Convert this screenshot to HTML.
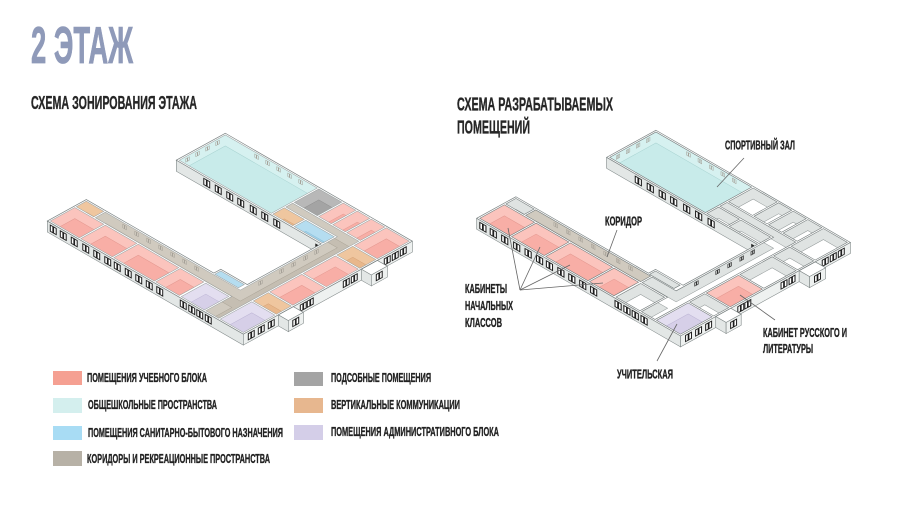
<!DOCTYPE html>
<html><head><meta charset="utf-8">
<style>
html,body{margin:0;padding:0;background:#fff}
svg{display:block}
.t{font-family:"Liberation Sans Narrow","Liberation Sans",sans-serif;font-weight:700}
.fl{stroke-width:.5}
.pw{fill:#fbc4bd}.pf{fill:#f8aea6;stroke:#e3978f}
.ow{fill:#efc69f}.of{fill:#e8b78b;stroke:#d4a074}
.bw{fill:#d0cabf}.bf{fill:#c5beb2;stroke:#aaa396}
.lw{fill:#e3def0}.lf{fill:#d6cfe8;stroke:#bcb4d4}
.uw{fill:#b5ddf0}.uf{fill:#a3d2ea;stroke:#86bcd6}
.gw{fill:#b8b8b8}.gf{fill:#a4a4a4;stroke:#8d8d8d}
.cw{fill:#d6f1f0}.cf{fill:#c8ebea;stroke:#a7d2d0}
.ww{fill:#dfe3e2}.wf{fill:#fff;stroke:#8f9696}
.ol{fill:none;stroke:#9aa1a1;stroke-width:.55}
.olr{fill:none;stroke:#737b7b;stroke-width:.6}
.fp{fill:none;stroke:#7b8383;stroke-width:.7}
.fc{fill:#e3e7e6;stroke:#7f8787;stroke-width:.6}
.fc2{fill:#eef1f0;stroke:#7f8787;stroke-width:.6}
.win{fill:#fff;stroke:#1d1d1d;stroke-width:1}
.mkl{fill:none;stroke:#a29d94;stroke-width:.5}
.mkr{fill:none;stroke:#333;stroke-width:.7}
.ld{stroke:#666;stroke-width:.8;fill:none}
.lab{stroke:#222;stroke-width:.35}
</style></head>
<body>
<svg width="900" height="506" viewBox="0 0 900 506" xmlns="http://www.w3.org/2000/svg">
<defs>
<rect id="sR1" x="1.5" y="1.5" width="29" height="24.5"/>
<rect id="sR2" x="32" y="1.5" width="31.5" height="24.5"/>
<rect id="sR3" x="65" y="1.5" width="40.5" height="24.5"/>
<rect id="sR4" x="107" y="1.5" width="23.5" height="24.5"/>
<rect id="sLS" x="132.5" y="1.5" width="23" height="24.5"/>
<rect id="sST1" x="1.5" y="27.5" width="17.5" height="10"/>
<rect id="sB1" x="129" y="38.5" width="23.5" height="6"/>
<polygon id="sCOR" points="20.5,27.5 157,27.5 157,1.5 170,1.5 170,141.5 104,141.5 104,134.5 155.5,134.5 155.5,37.5 20.5,37.5"/>
<rect id="sCA" x="20.5" y="27.5" width="110.5" height="10"/>
<polygon id="sCB" points="132.5,27.5 157,27.5 157,1.5 170,1.5 170,141.5 104,141.5 104,134.5 155.5,134.5 155.5,37.5 132.5,37.5"/>
<rect id="sLB" x="171.5" y="1.5" width="23" height="31.5"/>
<rect id="sST2" x="171.5" y="34.5" width="23" height="15"/>
<rect id="sPA" x="171.5" y="51" width="23" height="32"/>
<rect id="sPB" x="171.5" y="84.5" width="23" height="32"/>
<rect id="sST3" x="171.5" y="118" width="23" height="16"/>
<rect id="sPC" x="171.5" y="135.5" width="23" height="32"/>
<rect id="sGYM" x="10.5" y="121.5" width="92" height="46"/>
<rect id="sST4" x="104" y="121.5" width="20" height="11.5"/>
<rect id="sB2" x="125.5" y="121.5" width="28.5" height="11.5"/>
<rect id="sGR" x="104" y="143" width="23" height="24.5"/>
<rect id="sPS1" x="128.5" y="143" width="12.5" height="24.5"/>
<rect id="sPS2" x="142.5" y="143" width="12.5" height="24.5"/>
<rect id="sPS3" x="156.5" y="143" width="13.5" height="24.5"/>
<clipPath id="cR1"><use href="#sR1"/></clipPath>
<clipPath id="cR2"><use href="#sR2"/></clipPath>
<clipPath id="cR3"><use href="#sR3"/></clipPath>
<clipPath id="cR4"><use href="#sR4"/></clipPath>
<clipPath id="cLS"><use href="#sLS"/></clipPath>
<clipPath id="cST1"><use href="#sST1"/></clipPath>
<clipPath id="cB1"><use href="#sB1"/></clipPath>
<clipPath id="cCOR"><use href="#sCOR"/></clipPath>
<clipPath id="cCA"><use href="#sCA"/></clipPath>
<clipPath id="cCB"><use href="#sCB"/></clipPath>
<clipPath id="cLB"><use href="#sLB"/></clipPath>
<clipPath id="cST2"><use href="#sST2"/></clipPath>
<clipPath id="cPA"><use href="#sPA"/></clipPath>
<clipPath id="cPB"><use href="#sPB"/></clipPath>
<clipPath id="cST3"><use href="#sST3"/></clipPath>
<clipPath id="cPC"><use href="#sPC"/></clipPath>
<clipPath id="cGYM"><use href="#sGYM"/></clipPath>
<clipPath id="cST4"><use href="#sST4"/></clipPath>
<clipPath id="cB2"><use href="#sB2"/></clipPath>
<clipPath id="cGR"><use href="#sGR"/></clipPath>
<clipPath id="cPS1"><use href="#sPS1"/></clipPath>
<clipPath id="cPS2"><use href="#sPS2"/></clipPath>
<clipPath id="cPS3"><use href="#sPS3"/></clipPath>
<g id="win"><rect x="0" y="2.3" width="2.6" height="6.2"/><rect x="3.3" y="2.3" width="2.6" height="6.2"/></g>
<g id="mk"><rect x="0" y="2" width="1.5" height="3.5"/><rect x="2" y="2" width="1.5" height="3.5"/></g>
</defs>

<!-- TITLES -->
<text class="t" x="31" y="63" font-size="52" fill="#8f9ab9" stroke="#8f9ab9" stroke-width="0.8" textLength="102" lengthAdjust="spacingAndGlyphs">2 ЭТАЖ</text>
<text class="t lab" x="31" y="109" font-size="18.5" fill="#262626" textLength="166" lengthAdjust="spacingAndGlyphs">СХЕМА ЗОНИРОВАНИЯ ЭТАЖА</text>
<text class="t lab" x="457" y="110.5" font-size="18.5" fill="#262626" textLength="156" lengthAdjust="spacingAndGlyphs">СХЕМА РАЗРАБАТЫВАЕМЫХ</text>
<text class="t lab" x="457" y="133.5" font-size="18.5" fill="#262626" textLength="73" lengthAdjust="spacingAndGlyphs">ПОМЕЩЕНИЙ</text>

<!-- ================= LEFT DIAGRAM ================= -->
<g transform="matrix(1 0.577 0 1 167.3 155)">
 <rect x="9" y="0" width="145" height="11" class="fc"/>
 <g class="win"><use href="#win" x="36.5"/><use href="#win" x="48"/><use href="#win" x="59.5"/><use href="#win" x="70.5"/><use href="#win" x="83"/><use href="#win" x="94.5"/><use href="#win" x="106.5"/></g>
 <rect x="148" y="3" width="3" height="8" fill="#222"/>
</g>
<g transform="matrix(1 0.577 0 1 47.3 221)">
 <rect x="0" y="0" width="196" height="11" class="fc"/>
 <g class="win"><use href="#win" x="3"/><use href="#win" x="13"/><use href="#win" x="24"/><use href="#win" x="35.5"/><use href="#win" x="46.5"/><use href="#win" x="57.5"/><use href="#win" x="67"/><use href="#win" x="78"/><use href="#win" x="88.5"/><use href="#win" x="99"/><use href="#win" x="109.5"/><use href="#win" x="133"/><use href="#win" x="141.5"/><use href="#win" x="149.5"/><use href="#win" x="158"/></g>
</g>
<g transform="matrix(1 -0.55 0 1 243.3 334.09)">
 <rect x="0" y="0" width="169" height="11" class="fc2"/>
 <g class="win"><use href="#win" x="5"/><use href="#win" x="15"/><use href="#win" x="25"/><use href="#win" x="57"/><use href="#win" x="64"/><use href="#win" x="100"/><use href="#win" x="108"/><use href="#win" x="141"/><use href="#win" x="149"/><use href="#win" x="157"/></g>
</g>

<g transform="matrix(1 0.577 1 -0.55 47.3 221)">
 <polygon points="0,0 196,0 196,169 9,169 9,120 154,120 154,46 127.5,46 127.5,39 0,39" fill="#fff"/>
 <rect x="196" y="35" width="10" height="15" fill="#fff"/>
 <rect x="196" y="118" width="10" height="16" fill="#fff"/>
 <g clip-path="url(#cR1)"><use href="#sR1" class="pw"/><use href="#sR1" class="pf fl" transform="translate(9.76 -9.76)"/></g>
 <g clip-path="url(#cR2)"><use href="#sR2" class="pw"/><use href="#sR2" class="pf fl" transform="translate(9.76 -9.76)"/></g>
 <g clip-path="url(#cR3)"><use href="#sR3" class="pw"/><use href="#sR3" class="pf fl" transform="translate(9.76 -9.76)"/></g>
 <g clip-path="url(#cR4)"><use href="#sR4" class="pw"/><use href="#sR4" class="pf fl" transform="translate(9.76 -9.76)"/></g>
 <g clip-path="url(#cLS)"><use href="#sLS" class="lw"/><use href="#sLS" class="lf fl" transform="translate(9.76 -9.76)"/></g>
 <g clip-path="url(#cST1)"><use href="#sST1" class="ow"/><use href="#sST1" class="of fl" transform="translate(9.76 -9.76)"/></g>
 <g clip-path="url(#cB1)"><use href="#sB1" class="uw"/><use href="#sB1" class="uf fl" transform="translate(9.76 -9.76)"/></g>
 <g clip-path="url(#cCOR)"><use href="#sCOR" class="bw"/><use href="#sCOR" class="bf fl" transform="translate(9.76 -9.76)"/></g>
 <g clip-path="url(#cLB)"><use href="#sLB" class="lw"/><use href="#sLB" class="lf fl" transform="translate(9.76 -9.76)"/></g>
 <g clip-path="url(#cST2)"><use href="#sST2" class="ow"/><use href="#sST2" class="of fl" transform="translate(9.76 -9.76)"/></g>
 <g clip-path="url(#cPA)"><use href="#sPA" class="pw"/><use href="#sPA" class="pf fl" transform="translate(9.76 -9.76)"/></g>
 <g clip-path="url(#cPB)"><use href="#sPB" class="pw"/><use href="#sPB" class="pf fl" transform="translate(9.76 -9.76)"/></g>
 <g clip-path="url(#cST3)"><use href="#sST3" class="ow"/><use href="#sST3" class="of fl" transform="translate(9.76 -9.76)"/></g>
 <g clip-path="url(#cPC)"><use href="#sPC" class="pw"/><use href="#sPC" class="pf fl" transform="translate(9.76 -9.76)"/></g>
 <g clip-path="url(#cGYM)"><use href="#sGYM" class="cw"/><use href="#sGYM" class="cf fl" transform="translate(9.76 -9.76)"/></g>
 <g clip-path="url(#cST4)"><use href="#sST4" class="ow"/><use href="#sST4" class="of fl" transform="translate(9.76 -9.76)"/></g>
 <g clip-path="url(#cB2)"><use href="#sB2" class="uw"/><use href="#sB2" class="uf fl" transform="translate(9.76 -9.76)"/></g>
 <g clip-path="url(#cGR)"><use href="#sGR" class="gw"/><use href="#sGR" class="gf fl" transform="translate(9.76 -9.76)"/></g>
 <g clip-path="url(#cPS1)"><use href="#sPS1" class="pw"/><use href="#sPS1" class="pf fl" transform="translate(9.76 -9.76)"/></g>
 <g clip-path="url(#cPS2)"><use href="#sPS2" class="pw"/><use href="#sPS2" class="pf fl" transform="translate(9.76 -9.76)"/></g>
 <g clip-path="url(#cPS3)"><use href="#sPS3" class="pw"/><use href="#sPS3" class="pf fl" transform="translate(9.76 -9.76)"/></g>
 <g class="ol">
  <use href="#sR1"/><use href="#sR2"/><use href="#sR3"/><use href="#sR4"/><use href="#sLS"/><use href="#sST1"/><use href="#sB1"/><use href="#sCOR"/>
  <use href="#sLB"/><use href="#sST2"/><use href="#sPA"/><use href="#sPB"/><use href="#sST3"/><use href="#sPC"/>
  <use href="#sGYM"/><use href="#sST4"/><use href="#sB2"/><use href="#sGR"/><use href="#sPS1"/><use href="#sPS2"/><use href="#sPS3"/>
 </g>
 <polygon class="fp" points="0,0 196,0 196,169 9,169 9,120 154,120 154,46 127.5,46 127.5,39 0,39"/>
 <rect class="fp" x="196" y="35" width="10" height="15"/>
 <rect class="fp" x="196" y="118" width="10" height="16"/>
</g>
<g transform="matrix(1 0.577 0 1 82.3 201.75)"><rect x="196" y="0" width="10" height="11" class="fc"/></g>
<g transform="matrix(1 0.577 0 1 165.3 156.1)"><rect x="196" y="0" width="10" height="11" class="fc"/></g>
<g transform="matrix(1 -0.55 0 1 253.3 339.86)">
 <rect x="35" y="0" width="15" height="11" class="fc2"/><rect x="118" y="0" width="16" height="11" class="fc2"/>
 <g class="win"><use href="#win" x="39.5"/><use href="#win" x="123"/></g>
</g>
<g class="mkl" transform="matrix(1 0.577 0 1 84.8 200.375)"><use href="#mk" x="38"/><use href="#mk" x="50"/><use href="#mk" x="62"/><use href="#mk" x="74"/><use href="#mk" x="86"/><use href="#mk" x="98"/><use href="#mk" x="110"/></g>
<g class="mkl" transform="matrix(1 0.577 0 1 214.8 128.875)"><use href="#mk" x="40"/><use href="#mk" x="51"/><use href="#mk" x="62"/><use href="#mk" x="73"/><use href="#mk" x="84"/></g>
<g class="mkl" transform="matrix(1 -0.55 0 1 57.8 227.06)"><use href="#mk" x="128"/><use href="#mk" x="138"/><use href="#mk" x="148"/><use href="#mk" x="158"/></g>
<g class="mkl" transform="matrix(1 -0.55 0 1 202.8 310.72)"><use href="#mk" x="56"/><use href="#mk" x="77"/><use href="#mk" x="89"/><use href="#mk" x="101"/><use href="#mk" x="112"/></g>

<!-- ================= RIGHT DIAGRAM ================= -->
<g transform="matrix(1.04 0.6 0 1 597.3 151.94)">
 <rect x="9" y="0" width="145" height="11" class="fc"/>
 <g class="win"><use href="#win" x="36.5"/><use href="#win" x="48"/><use href="#win" x="59.5"/><use href="#win" x="70.5"/><use href="#win" x="83"/><use href="#win" x="94.5"/><use href="#win" x="106.5"/></g>
 <rect x="148" y="3" width="3" height="8" fill="#222"/>
</g>
<g transform="matrix(1.04 0.6 0 1 476.7 218.3)">
 <rect x="0" y="0" width="196" height="11" class="fc"/>
 <g class="win"><use href="#win" x="3"/><use href="#win" x="13"/><use href="#win" x="24"/><use href="#win" x="35.5"/><use href="#win" x="46.5"/><use href="#win" x="57.5"/><use href="#win" x="67"/><use href="#win" x="78"/><use href="#win" x="88.5"/><use href="#win" x="99"/><use href="#win" x="109.5"/><use href="#win" x="133"/><use href="#win" x="141.5"/><use href="#win" x="149.5"/><use href="#win" x="158"/></g>
</g>
<g transform="matrix(1.005 -0.553 0 1 680.54 335.9)">
 <rect x="0" y="0" width="169" height="11" class="fc2"/>
 <g class="win"><use href="#win" x="5"/><use href="#win" x="15"/><use href="#win" x="25"/><use href="#win" x="57"/><use href="#win" x="64"/><use href="#win" x="100"/><use href="#win" x="108"/><use href="#win" x="141"/><use href="#win" x="149"/><use href="#win" x="157"/></g>
</g>

<g transform="matrix(1.04 0.6 1.005 -0.553 476.7 218.3)">
 <polygon points="0,0 196,0 196,169 9,169 9,120 154,120 154,46 127.5,46 127.5,39 0,39" fill="#fff"/>
 <rect x="196" y="35" width="10" height="15" fill="#fff"/>
 <rect x="196" y="118" width="10" height="16" fill="#fff"/>
 <g clip-path="url(#cR1)"><use href="#sR1" class="pw"/><use href="#sR1" class="pf fl" transform="translate(9.385 -9.712)"/></g>
 <g clip-path="url(#cR2)"><use href="#sR2" class="pw"/><use href="#sR2" class="pf fl" transform="translate(9.385 -9.712)"/></g>
 <g clip-path="url(#cR3)"><use href="#sR3" class="pw"/><use href="#sR3" class="pf fl" transform="translate(9.385 -9.712)"/></g>
 <g clip-path="url(#cR4)"><use href="#sR4" class="pw"/><use href="#sR4" class="pf fl" transform="translate(9.385 -9.712)"/></g>
 <g clip-path="url(#cLS)"><use href="#sLS" class="ww"/><use href="#sLS" class="wf fl" transform="translate(9.385 -9.712)"/></g>
 <g clip-path="url(#cST1)"><use href="#sST1" class="ww"/><use href="#sST1" class="wf fl" transform="translate(9.385 -9.712)"/></g>
 <g clip-path="url(#cB1)"><use href="#sB1" class="ww"/><use href="#sB1" class="wf fl" transform="translate(9.385 -9.712)"/></g>
 <g clip-path="url(#cCA)"><use href="#sCA" class="bw"/><use href="#sCA" class="bf fl" transform="translate(9.385 -9.712)"/></g>
 <g clip-path="url(#cCB)"><use href="#sCB" class="ww"/><use href="#sCB" class="wf fl" transform="translate(9.385 -9.712)"/></g>
 <g clip-path="url(#cLB)"><use href="#sLB" class="lw"/><use href="#sLB" class="lf fl" transform="translate(9.385 -9.712)"/></g>
 <g clip-path="url(#cST2)"><use href="#sST2" class="ww"/><use href="#sST2" class="wf fl" transform="translate(9.385 -9.712)"/></g>
 <g clip-path="url(#cPA)"><use href="#sPA" class="pw"/><use href="#sPA" class="pf fl" transform="translate(9.385 -9.712)"/></g>
 <g clip-path="url(#cPB)"><use href="#sPB" class="ww"/><use href="#sPB" class="wf fl" transform="translate(9.385 -9.712)"/></g>
 <g clip-path="url(#cST3)"><use href="#sST3" class="ww"/><use href="#sST3" class="wf fl" transform="translate(9.385 -9.712)"/></g>
 <g clip-path="url(#cPC)"><use href="#sPC" class="ww"/><use href="#sPC" class="wf fl" transform="translate(9.385 -9.712)"/></g>
 <g clip-path="url(#cGYM)"><use href="#sGYM" class="cw"/><use href="#sGYM" class="cf fl" transform="translate(9.385 -9.712)"/></g>
 <g clip-path="url(#cST4)"><use href="#sST4" class="ww"/><use href="#sST4" class="wf fl" transform="translate(9.385 -9.712)"/></g>
 <g clip-path="url(#cB2)"><use href="#sB2" class="ww"/><use href="#sB2" class="wf fl" transform="translate(9.385 -9.712)"/></g>
 <g clip-path="url(#cGR)"><use href="#sGR" class="ww"/><use href="#sGR" class="wf fl" transform="translate(9.385 -9.712)"/></g>
 <g clip-path="url(#cPS1)"><use href="#sPS1" class="ww"/><use href="#sPS1" class="wf fl" transform="translate(9.385 -9.712)"/></g>
 <g clip-path="url(#cPS2)"><use href="#sPS2" class="ww"/><use href="#sPS2" class="wf fl" transform="translate(9.385 -9.712)"/></g>
 <g clip-path="url(#cPS3)"><use href="#sPS3" class="ww"/><use href="#sPS3" class="wf fl" transform="translate(9.385 -9.712)"/></g>
 <g class="olr">
  <use href="#sR1"/><use href="#sR2"/><use href="#sR3"/><use href="#sR4"/><use href="#sLS"/><use href="#sST1"/><use href="#sB1"/><use href="#sCA"/><use href="#sCB"/>
  <use href="#sLB"/><use href="#sST2"/><use href="#sPA"/><use href="#sPB"/><use href="#sST3"/><use href="#sPC"/>
  <use href="#sGYM"/><use href="#sST4"/><use href="#sB2"/><use href="#sGR"/><use href="#sPS1"/><use href="#sPS2"/><use href="#sPS3"/>
 </g>
 <polygon class="fp" points="0,0 196,0 196,169 9,169 9,120 154,120 154,46 127.5,46 127.5,39 0,39"/>
 <rect class="fp" x="196" y="35" width="10" height="15"/>
 <rect class="fp" x="196" y="118" width="10" height="16"/>
</g>
<g transform="matrix(1.04 0.6 0 1 511.875 198.945)"><rect x="196" y="0" width="10" height="11" class="fc"/></g>
<g transform="matrix(1.04 0.6 0 1 595.29 153.046)"><rect x="196" y="0" width="10" height="11" class="fc"/></g>
<g transform="matrix(1.005 -0.553 0 1 690.94 341.9)">
 <rect x="35" y="0" width="15" height="11" class="fc2"/><rect x="118" y="0" width="16" height="11" class="fc2"/>
 <g class="win"><use href="#win" x="39.5"/><use href="#win" x="123"/></g>
</g>
<g class="mkl" transform="matrix(1.04 0.6 0 1 514.39 197.56)"><use href="#mk" x="38"/><use href="#mk" x="50"/><use href="#mk" x="62"/><use href="#mk" x="74"/><use href="#mk" x="86"/><use href="#mk" x="98"/><use href="#mk" x="110"/></g>
<g class="mkl" transform="matrix(1.04 0.6 0 1 645.04 125.67)"><use href="#mk" x="40"/><use href="#mk" x="51"/><use href="#mk" x="62"/><use href="#mk" x="73"/><use href="#mk" x="84"/></g>
<g class="mkl" transform="matrix(1.005 -0.553 0 1 487.62 224.6)"><use href="#mk" x="128"/><use href="#mk" x="138"/><use href="#mk" x="148"/><use href="#mk" x="158"/></g>
<g class="mkr" transform="matrix(1.005 -0.553 0 1 638.42 311.6)"><use href="#mk" x="56"/><use href="#mk" x="77"/><use href="#mk" x="89"/><use href="#mk" x="101"/><use href="#mk" x="112"/></g>

<!-- leaders -->
<line class="ld" x1="744" y1="158" x2="717" y2="187"/>
<line class="ld" x1="617" y1="230" x2="607" y2="257"/>
<line class="ld" x1="520" y1="290" x2="508" y2="228"/>
<line class="ld" x1="520" y1="290" x2="540" y2="247"/>
<line class="ld" x1="520" y1="290" x2="570" y2="265"/>
<line class="ld" x1="520" y1="290" x2="603" y2="283"/>
<line class="ld" x1="775" y1="320" x2="740" y2="295"/>
<line class="ld" x1="657" y1="361" x2="677" y2="324"/>

<!-- labels -->
<g class="t lab" font-size="12.5" fill="#222">
<text x="725" y="149.5" textLength="70" lengthAdjust="spacingAndGlyphs">СПОРТИВНЫЙ ЗАЛ</text>
<text x="605" y="225.5" textLength="37" lengthAdjust="spacingAndGlyphs">КОРИДОР</text>
<text x="465" y="293" textLength="42" lengthAdjust="spacingAndGlyphs">КАБИНЕТЫ</text>
<text x="465" y="310" textLength="48" lengthAdjust="spacingAndGlyphs">НАЧАЛЬНЫХ</text>
<text x="465" y="327" textLength="37" lengthAdjust="spacingAndGlyphs">КЛАССОВ</text>
<text x="763" y="337" textLength="84" lengthAdjust="spacingAndGlyphs">КАБИНЕТ РУССКОГО И</text>
<text x="763" y="353" textLength="50" lengthAdjust="spacingAndGlyphs">ЛИТЕРАТУРЫ</text>
<text x="617" y="378.5" textLength="56" lengthAdjust="spacingAndGlyphs">УЧИТЕЛЬСКАЯ</text>
</g>

<!-- legend -->
<rect x="53" y="371" width="29" height="14" fill="#f5a092"/>
<rect x="53" y="398" width="29" height="15" fill="#d4efee"/>
<rect x="53" y="426" width="29" height="14" fill="#a8dcf4"/>
<rect x="53" y="451" width="29" height="15" fill="#b7b1a6"/>
<rect x="294" y="372" width="29" height="14" fill="#a4a4a4"/>
<rect x="294" y="398" width="29" height="15" fill="#e7b78f"/>
<rect x="294" y="425" width="29" height="15" fill="#d4cee8"/>
<g class="t lab" font-size="12.5" fill="#222">
<text x="87" y="382" textLength="120" lengthAdjust="spacingAndGlyphs">ПОМЕЩЕНИЯ УЧЕБНОГО БЛОКА</text>
<text x="88" y="409" textLength="129" lengthAdjust="spacingAndGlyphs">ОБЩЕШКОЛЬНЫЕ ПРОСТРАНСТВА</text>
<text x="88" y="437" textLength="195" lengthAdjust="spacingAndGlyphs">ПОМЕЩЕНИЯ САНИТАРНО-БЫТОВОГО НАЗНАЧЕНИЯ</text>
<text x="87" y="463" textLength="183" lengthAdjust="spacingAndGlyphs">КОРИДОРЫ И РЕКРЕАЦИОННЫЕ ПРОСТРАНСТВА</text>
<text x="331" y="382" textLength="100" lengthAdjust="spacingAndGlyphs">ПОДСОБНЫЕ ПОМЕЩЕНИЯ</text>
<text x="331" y="409" textLength="129" lengthAdjust="spacingAndGlyphs">ВЕРТИКАЛЬНЫЕ КОММУНИКАЦИИ</text>
<text x="331" y="436" textLength="168" lengthAdjust="spacingAndGlyphs">ПОМЕЩЕНИЯ АДМИНИСТРАТИВНОГО БЛОКА</text>
</g>
</svg>
</body></html>
